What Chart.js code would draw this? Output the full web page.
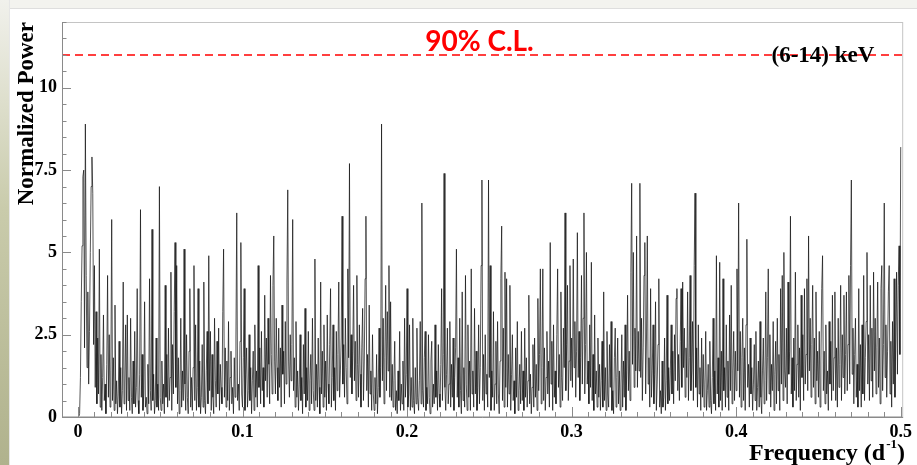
<!DOCTYPE html>
<html lang="en">
<head>
    <meta charset="UTF-8">
    <title>Periodogram</title>
    <script src="https://cdn.jsdelivr.net/npm/chart.js@4/dist/chart.umd.min.js"></script>
    <style>
        body { margin: 0; width: 917px; height: 465px; background: #fff; position: relative; overflow: hidden; }
        #topbar { position: absolute; left: 0; top: 0; width: 917px; height: 8px; background: #f3f3ef; border-bottom: 1px solid #dedede; }
        #sidebar { position: absolute; left: 0; top: 0; width: 9px; height: 465px; background: linear-gradient(#f1f1ec, #c9cbab 45%, #b0b28d); border-right: 1px solid #e6e6e6; }
        #wykres { position: absolute; left: 0; top: 0; }
    </style>
</head>
<body>
    <div id="topbar"></div>
    <div id="sidebar"></div>
    <canvas id="wykres" width="917" height="465"></canvas>
    <script>
        // frequency grid (d^-1)
        const freqStart = 0;
        const freqStep = 0.0005;

        // normalized power, 0.0000 - 0.0995
        const powerA = [
            0,0,0.1,1.2,3.5,5.2,7.3,7.5,2.1,8.9,4.3,1.5,3.8,1.0,2.6,5.0,7.0,7.9,6.8,2.2,
            4.6,0.9,3.2,0.4,2.4,0.7,5.1,0.3,1.9,0.2,1.2,3.1,0.5,1.0,0.1,1.6,4.3,0.6,2.5,0.3,
            1.4,6.0,0.5,1.8,0.2,3.4,0.4,1.1,0.1,0.7,2.3,0.3,1.5,0.1,0.8,4.1,0.4,1.0,2.8,0.2,
            3.1,0.5,1.2,0.2,3.0,0.6,0.1,1.7,0.4,2.6,0.3,0.9,3.9,0.5,0.1,1.3,6.3,0.6,1.9,0.2,
            0.7,3.5,0.3,0.6,0.1,1.6,0.4,4.2,0.8,0.2,5.7,0.5,1.3,0.1,0.5,2.4,0.3,1.0,0.2,7.0,
            0.6,0.2,1.7,0.4,1.0,0.1,4.0,0.6,1.9,0.3,2.7,0.5,1.2,4.4,0.2,2.2,0.7,3.2,5.3,0.9,
            4.6,0.4,1.8,0.1,0.8,3.0,0.3,1.4,0.5,5.1,1.0,0.2,2.5,0.6,0.1,2.0,3.9,0.3,1.2,0.2,
            1.5,4.6,0.5,2.8,0.2,0.9,3.9,0.3,1.7,0.1,0.6,2.2,0.3,4.1,0.5,0.1,1.4,2.6,0.4,4.9,
            0.8,2.6,0.2,1.9,0.6,0.1,3.0,1.1,0.3,2.3,0.7,2.7,0.2,1.6,0.9,0.4,3.2,5.1,0.6,2.1,
            0.3,1.7,0.5,2.9,0.2,1.2,2.0,0.4,0.9,0.1,1.8,0.6,2.4,6.2,0.5,1.0,0.2,2.3,5.3,0.7
        ];
        // 0.1000 - 0.1995
        const powerB = [
            0.3,1.8,3.9,0.2,1.3,2.1,0.3,0.8,2.5,0.5,1.5,0.1,1.1,2.0,0.2,2.8,0.6,1.4,0.3,4.6,
            0.9,2.1,0.4,2.6,0.8,1.5,0.3,3.7,1.1,2.4,0.6,3.0,1.6,0.4,4.3,1.9,0.7,4.0,5.5,1.7,
            0.7,3.0,1.5,0.5,2.7,0.9,2.1,0.3,3.4,1.3,2.0,0.4,2.9,1.0,4.1,6.9,1.7,0.6,2.5,1.1,
            2.2,6.0,0.8,1.8,0.3,2.9,0.6,1.4,0.2,1.0,2.5,0.5,1.2,0.1,2.2,0.7,3.3,0.3,1.5,0.5,
            2.6,0.2,1.1,1.9,0.4,3.0,0.8,0.2,4.8,0.5,1.6,0.3,2.4,0.9,0.1,4.1,0.7,2.0,0.3,2.8,
            0.6,1.7,0.2,3.1,1.0,0.4,2.2,3.9,0.3,1.2,2.8,0.5,1.5,0.2,2.6,0.8,1.9,4.1,0.6,1.4,
            2.4,6.1,1.0,2.2,0.6,3.0,1.5,0.4,4.5,1.8,7.7,1.2,2.5,0.7,2.0,4.0,1.1,2.3,0.5,4.3,
            1.6,0.6,2.8,1.3,0.3,2.1,3.3,0.5,1.7,4.2,6.1,0.8,1.9,0.3,3.4,0.7,1.4,0.2,2.5,0.7,
            0.2,1.2,0.4,1.9,0.1,0.9,2.7,0.6,1.5,8.9,1.1,3.0,0.4,1.8,4.0,0.8,3.2,1.4,4.6,0.6,
            3.5,0.5,1.6,0.3,1.1,2.3,0.2,0.8,0.1,1.4,0.5,2.6,0.2,1.0,0.4,1.7,0.2,3.0,0.6,1.3
        ];
        // 0.2000 - 0.2995
        const powerC = [
            3.9,0.3,0.7,2.8,0.2,1.2,0.3,3.0,0.5,0.1,1.5,0.4,2.7,0.6,0.2,1.1,2.9,0.4,6.5,0.8,
            0.3,1.8,2.6,0.2,0.9,0.4,2.5,0.6,0.1,1.7,2.3,0.3,1.0,0.4,2.8,0.6,1.4,0.2,2.2,0.7,
            0.3,1.6,3.9,0.5,1.9,7.4,0.9,0.2,1.3,2.7,0.4,1.0,2.9,0.3,1.6,0.6,2.4,0.2,1.2,2.1,
            5.1,0.6,1.8,0.3,3.0,0.8,0.1,3.8,0.5,1.5,0.3,4.3,1.0,0.2,2.8,0.6,1.7,0.2,4.5,0.7,
            1.4,0.3,3.3,0.7,2.0,0.2,0.9,2.8,0.4,1.5,4.6,7.2,0.5,1.9,0.2,2.5,0.7,1.3,0.3,7.2,
            1.2,4.6,0.2,1.4,0.6,3.2,0.2,1.0,2.3,0.4,2.9,0.7,0.1,1.7,4.2,5.8,0.5,2.7,0.3,4.4,
            0.9,4.2,0.3,1.9,0.7,4.0,0.2,1.3,2.5,0.5,1.1,0.1,2.1,0.6,2.9,0.2,0.8,1.6,0.4,2.6,
            0.5,1.4,0.2,2.7,0.6,1.8,0.3,1.1,3.7,0.4,1.3,0.1,0.9,2.2,0.3,2.4,0.6,1.6,0.2,3.6,
            0.8,1.9,4.5,0.4,1.5,4.5,0.5,2.1,0.2,1.2,2.6,0.7,1.7,0.3,5.3,1.0,2.3,0.2,2.8,0.6,
            1.4,0.4,2.5,4.5,0.9,1.9,0.3,3.8,1.2,0.5,2.7,1.5,6.2,0.8,2.2,4.0,0.5,1.7,4.6,1.1
        ];
        // 0.3000 - 0.3995
        const powerD = [
            2.4,0.9,4.8,1.5,2.9,0.6,2.0,5.6,1.2,2.6,0.5,1.8,4.3,1.0,3.0,6.2,0.7,2.2,5.0,1.0,
            1.7,0.4,2.8,0.9,4.7,0.5,1.9,0.2,3.1,0.7,1.4,0.3,2.4,0.6,1.6,0.2,1.1,2.3,0.3,3.8,
            0.5,1.5,0.2,2.6,0.7,0.3,2.2,0.9,2.9,0.2,0.8,0.1,1.8,2.7,0.3,1.2,2.4,0.4,1.4,0.2,
            1.0,2.5,0.3,1.7,0.6,2.8,0.2,1.4,3.7,0.8,2.0,0.5,4.4,7.1,1.6,5.0,0.9,2.7,1.4,5.5,
            0.9,2.6,1.4,7.1,1.2,3.0,0.5,2.1,4.3,5.3,0.7,2.4,5.5,1.0,1.8,0.3,3.9,0.6,1.4,2.8,
            0.4,1.3,3.5,0.2,1.0,2.2,4.2,0.3,0.8,0.1,1.7,0.3,0.6,2.4,0.2,1.1,3.7,0.4,1.5,0.5,
            1.4,2.8,0.7,2.0,0.4,2.5,1.1,3.6,3.9,0.8,1.9,0.5,2.3,3.9,0.9,4.1,1.5,2.7,0.6,2.1,
            1.2,3.8,0.5,1.8,4.3,0.8,1.4,2.9,0.5,4.6,6.8,0.9,2.1,0.3,2.8,0.7,1.5,0.2,2.4,0.6,
            1.9,0.3,1.0,2.6,0.2,0.8,1.6,0.3,2.3,0.5,0.1,1.2,3.0,0.4,1.4,0.2,4.9,0.7,1.8,0.3,
            4.7,0.5,2.0,0.2,4.2,0.8,1.5,0.3,2.8,0.6,1.7,0.2,3.1,0.8,4.0,0.4,1.4,2.6,0.5,2.0
        ];
        // 0.4000 - 0.5000
        const powerE = [
            0.8,4.5,1.4,6.5,0.6,2.6,0.3,1.8,3.0,0.5,2.1,0.2,2.8,5.4,0.9,1.6,0.3,2.4,0.7,1.5,
            0.2,1.0,2.2,0.5,2.6,0.2,0.9,1.7,0.3,2.9,0.6,0.1,1.4,2.4,0.4,1.1,3.8,0.5,1.8,4.5,
            0.7,2.5,0.3,1.6,0.8,2.9,0.2,1.3,2.3,0.4,3.0,0.8,1.9,0.2,3.9,1.0,4.3,0.5,5.0,1.4,
            0.9,2.7,0.4,4.1,1.3,2.0,6.1,0.7,1.8,0.3,2.4,0.8,4.4,0.5,1.6,2.8,0.6,2.1,0.2,3.7,
            1.2,2.5,0.5,3.9,1.0,1.9,4.2,0.8,5.5,1.4,3.0,0.6,2.2,4.0,0.9,2.4,0.4,3.8,1.1,2.0,
            0.6,2.6,0.3,1.7,3.9,4.9,0.8,2.0,0.4,2.8,0.7,1.4,0.2,2.9,1.0,2.3,0.5,3.7,0.8,1.8,
            3.8,0.5,2.1,0.3,3.0,0.9,1.6,4.0,0.5,2.5,1.2,3.7,0.7,1.9,3.8,0.8,2.2,4.3,1.0,4.6,
            7.2,1.3,2.7,0.4,1.9,3.0,0.6,1.6,0.3,3.9,0.8,2.2,0.3,2.8,0.7,4.3,0.5,1.8,2.9,5.0,
            1.0,2.5,0.5,4.0,1.1,2.7,0.6,4.4,1.4,3.0,0.7,2.1,4.1,0.9,2.4,0.4,3.9,4.6,0.8,2.2,
            6.5,1.2,2.8,0.6,2.0,3.8,4.6,0.7,2.3,0.3,2.9,1.0,4.2,0.6,2.4,4.4,1.3,4.0,5.2,1.9,
            8.2
        ];

        const clLevel = 11;          // 90% C.L. threshold
        const xTicks = [0, 0.1, 0.2, 0.3, 0.4, 0.5];
        const xTickLabels = ['0', '0.1', '0.2', '0.3', '0.4', '0.5'];
        const yTicks = [0, 2.5, 5, 7.5, 10];
        const yTickLabels = ['0', '2.5', '5', '7.5', '10'];
        const xMin = -0.0097, xMax = 0.5015, yMin = 0, yMax = 12;

        const power = powerA.concat(powerB, powerC, powerD, powerE);
        const punkty = power.map((p, i) => ({ x: freqStart + i * freqStep, y: p }));

        const serif = '"Liberation Serif", "Times New Roman", serif';

        const ramka = {
            id: 'ramka',
            afterDraw(chart) {
                const ctx = chart.ctx;
                const a = chart.chartArea;
                const sx = chart.scales.x, sy = chart.scales.y;
                ctx.save();
                ctx.lineWidth = 1;
                ctx.strokeStyle = '#c4c4c4';
                ctx.strokeRect(a.left + 0.5, a.top + 0.5, a.right - a.left - 1, a.bottom - a.top - 1);
                ctx.strokeStyle = '#8a8a8a';
                ctx.beginPath();
                ctx.moveTo(a.left + 0.5, a.top);
                ctx.lineTo(a.left + 0.5, a.bottom + 0.5);
                ctx.lineTo(a.right, a.bottom + 0.5);
                ctx.stroke();
                // y ticks (major 2.5, minor 0.5)
                ctx.beginPath();
                for (let k = 0; k <= 24; k++) {
                    const py = Math.round(sy.getPixelForValue(k * 0.5)) + 0.5;
                    const len = (k % 5 === 0) ? 9 : 4.5;
                    ctx.moveTo(a.left, py);
                    ctx.lineTo(a.left + len, py);
                }
                // x ticks (major 0.1, minor 0.01)
                for (let k = 0; k <= 50; k++) {
                    const px = Math.round(sx.getPixelForValue(k * 0.01)) + 0.5;
                    const len = (k % 10 === 0) ? 10 : 5;
                    ctx.moveTo(px, a.bottom);
                    ctx.lineTo(px, a.bottom - len);
                }
                ctx.stroke();

                const yCL = sy.getPixelForValue(clLevel);
                ctx.fillStyle = '#ff0000';
                ctx.font = 'bold 28px Lato, "Liberation Sans", sans-serif';
                ctx.textAlign = 'left';
                ctx.textBaseline = 'alphabetic';
                ctx.fillText('90% C.L.', sx.getPixelForValue(0.211), yCL - 4);

                ctx.fillStyle = '#000';
                ctx.font = 'bold 23px ' + serif;
                ctx.textAlign = 'center';
                ctx.fillText('(6-14) keV', sx.getPixelForValue(0.4527), yCL + 7);

                // y title
                ctx.save();
                ctx.translate(33, a.top);
                ctx.rotate(-Math.PI / 2);
                ctx.textAlign = 'right';
                ctx.font = 'bold 23px ' + serif;
                ctx.fillText('Normalized Power', 0, 0);
                ctx.restore();

                // x title with superscript
                const right = 905, base = 460;
                ctx.textAlign = 'right';
                ctx.font = 'bold 24px ' + serif;
                ctx.fillText(')', right, base);
                let xr = right - ctx.measureText(')').width;
                ctx.font = 'bold 13px ' + serif;
                ctx.fillText('-1', xr, base - 12);
                xr -= ctx.measureText('-1').width + 1;
                ctx.font = 'bold 24px ' + serif;
                ctx.fillText('Frequency (d', xr, base);
                ctx.restore();
            }
        };

        const ctx = document.getElementById('wykres').getContext('2d');
        const wykres = new Chart(ctx, {
            type: 'line',
            data: {
                datasets: [
                    {
                        label: 'power',
                        data: punkty,
                        borderColor: 'rgba(20,20,20,0.8)',
                        borderWidth: 0.9,
                        pointRadius: 0,
                        tension: 0
                    },
                    {
                        label: '90% C.L.',
                        data: [{ x: xMin, y: clLevel }, { x: xMax, y: clLevel }],
                        borderColor: '#ff0000',
                        borderWidth: 1.5,
                        borderDash: [8, 5],
                        pointRadius: 0
                    }
                ]
            },
            options: {
                responsive: false,
                animation: false,
                events: [],
                layout: { autoPadding: false, padding: { left: 0, top: 22, right: 11, bottom: 0 } },
                plugins: { legend: { display: false }, tooltip: { enabled: false } },
                scales: {
                    x: {
                        type: 'linear',
                        min: xMin,
                        max: xMax,
                        grid: { display: false, drawTicks: false },
                        border: { display: false },
                        afterBuildTicks: s => { s.ticks = xTicks.map(v => ({ value: v })); },
                        afterFit: s => { s.height = 48; },
                        ticks: {
                            autoSkip: false,
                            maxRotation: 0,
                            padding: 5,
                            color: '#000',
                            font: { family: serif, size: 18, weight: 'bold' },
                            callback: (v, i) => xTickLabels[i]
                        }
                    },
                    y: {
                        min: yMin,
                        max: yMax,
                        grid: { display: false, drawTicks: false },
                        border: { display: false },
                        afterBuildTicks: s => { s.ticks = yTicks.map(v => ({ value: v })); },
                        afterFit: s => { s.width = 62; },
                        ticks: {
                            padding: 5,
                            color: '#000',
                            font: { family: serif, size: 18, weight: 'bold' },
                            callback: (v, i) => yTickLabels[i]
                        }
                    }
                }
            },
            plugins: [ramka]
        });
    </script>
</body>
</html>
